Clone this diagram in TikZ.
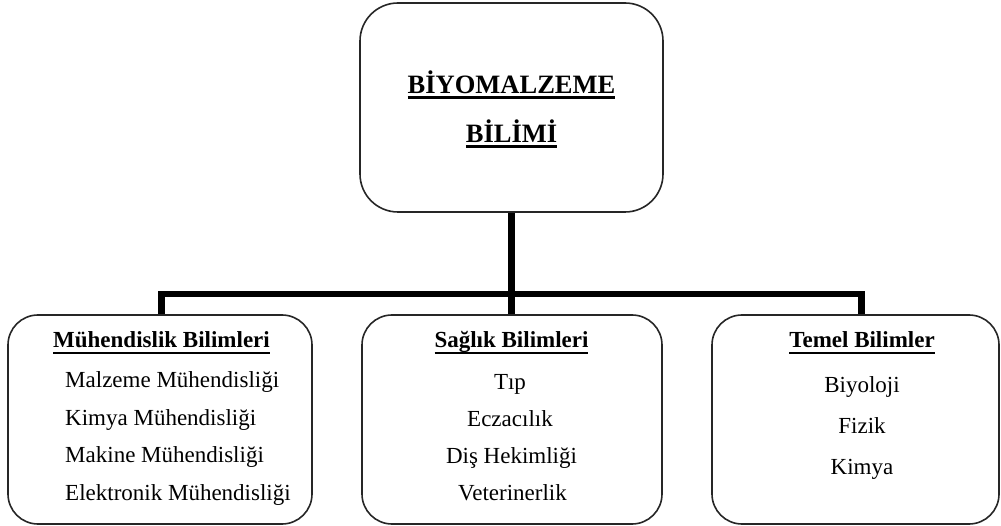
\documentclass[tikz,border=0pt]{standalone}
\usepackage{fontspec}
\setmainfont{Liberation Serif}
\newcommand\myul[3]{\setbox0=\hbox{#3}\leavevmode\rlap{\rule[-#1]{\wd0}{#2}}\box0}
\tikzset{
  box/.style={draw=black!85, line width=1.6pt, rounded corners=30pt, inner sep=0pt},
  conn/.style={line width=6.5pt, line join=miter, line cap=butt},
  title/.style={anchor=base, inner sep=0pt, font=\fontsize{26.5}{30}\selectfont\bfseries},
  head/.style={anchor=base, inner sep=0pt, font=\fontsize{23}{27}\selectfont\bfseries},
  item/.style={anchor=base, inner sep=0pt, font=\fontsize{23}{27}\selectfont},
  litem/.style={anchor=base west, inner sep=0pt, font=\fontsize{23}{27}\selectfont},
}
\begin{document}
\begin{tikzpicture}[x=1pt,y=-1pt]
\useasboundingbox (0,0) rectangle (1001,526);
% boxes
\node[box, rounded corners=38pt, minimum width=303pt, minimum height=209pt] (top) at (511.5,107.5) {};
\node[box, minimum width=304pt, minimum height=209pt] (lb) at (160,419.5) {};
\node[box, minimum width=300pt, minimum height=209pt] (mb) at (512,419.5) {};
\node[box, minimum width=287pt, minimum height=209pt] (rb) at (855.5,419.5) {};
% title
\node[title] (t1) at (511.5,94) {\myul{5pt}{2.8pt}{BİYOMALZEME}};
\node[title] (t2) at (511.5,143) {\myul{5pt}{2.8pt}{BİLİMİ}};
% left box
\node[head] (lh) at (161.5,348) {\myul{6pt}{2.2pt}{Mühendislik Bilimleri}};
\node[litem] (l1) at (65,388) {Malzeme Mühendisliği};
\node[litem] (l2) at (65,425) {Kimya Mühendisliği};
\node[litem] (l3) at (65,462) {Makine Mühendisliği};
\node[litem] (l4) at (65,500) {Elektronik Mühendisliği};
% middle box
\node[head] (mh) at (511.5,348) {\myul{6pt}{2.2pt}{Sağlık Bilimleri}};
\node[item] (m1) at (510,389) {Tıp};
\node[item] (m2) at (510,426) {Eczacılık};
\node[item] (m3) at (511.5,463) {Diş Hekimliği};
\node[item] (m4) at (512.5,500) {Veterinerlik};
% right box
\node[head] (rh) at (862,348) {\myul{6pt}{2.2pt}{Temel Bilimler}};
\node[item] (r1) at (862,392) {Biyoloji};
\node[item] (r2) at (862,433) {Fizik};
\node[item] (r3) at (862,474) {Kimya};
% connectors
\coordinate (jl) at (161.5,294);
\coordinate (jm) at (511.5,294);
\coordinate (jr) at (861.5,294);
\draw[conn] (top.south) -- (jm |- mb.north);
\draw[conn] (jl |- lb.north) -- (jl) -- (jr) -- (jr |- rb.north);
\end{tikzpicture}
\end{document}
